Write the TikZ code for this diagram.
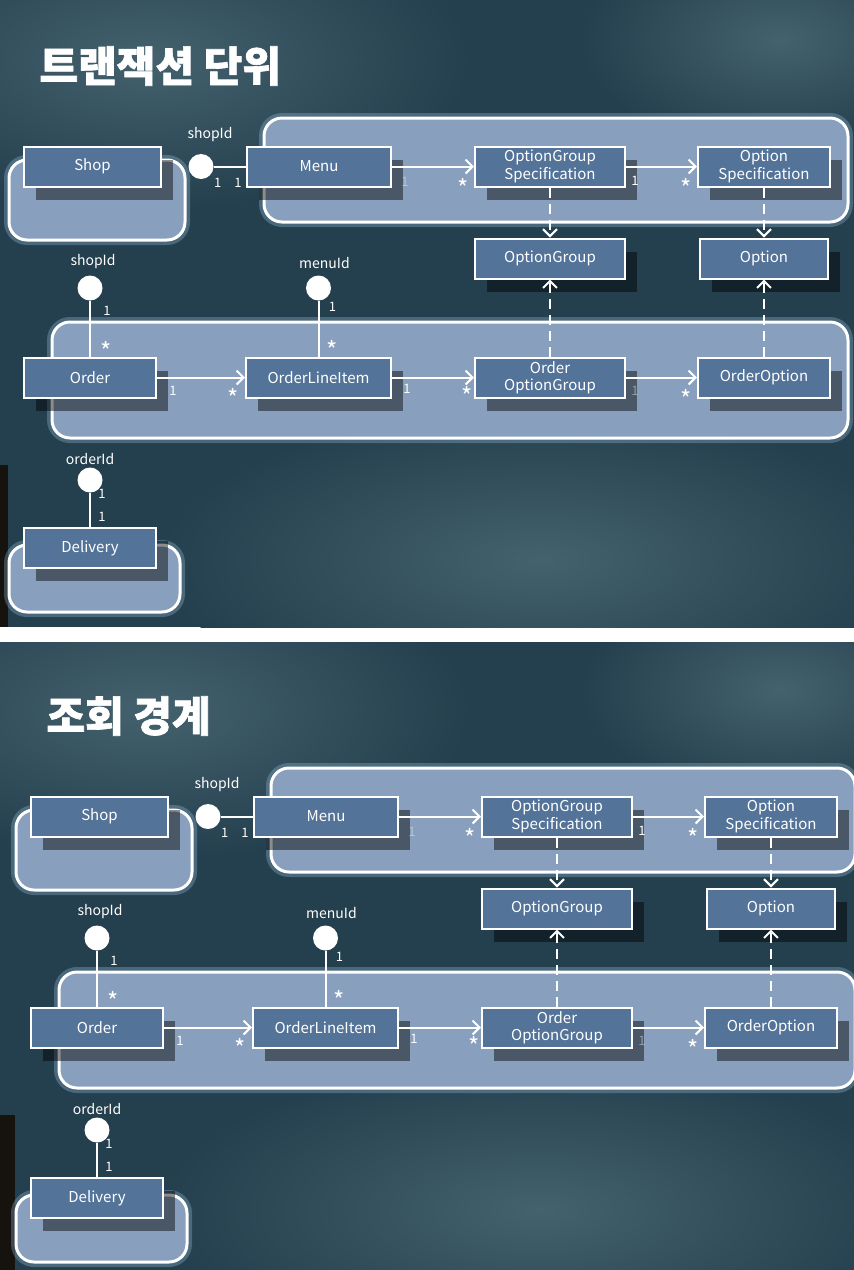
\documentclass[tikz,border=0pt]{standalone}
\usepackage{fontspec}
\setmainfont{Noto Sans CJK KR}
\newfontfamily\headfont{Noto Sans CJK KR}[BoldFeatures={FakeBold=1.5}]
\usetikzlibrary{arrows.meta, positioning, shadows}
\definecolor{board}{RGB}{36,63,77}
\definecolor{boardlight}{RGB}{68,97,110}
\definecolor{edgebar}{RGB}{22,18,14}
\definecolor{classfill}{RGB}{83,115,152}
\definecolor{groupfill}{RGB}{136,160,189}
\definecolor{glow}{RGB}{160,200,230}
\tikzset{
  cls/.style={
    rectangle, draw=white, line width=2pt, fill=classfill,
    minimum height=40pt, inner sep=0pt, align=center,
    text=white, font=\fontsize{15}{17.5}\selectfont,
    drop shadow={shadow xshift=12pt, shadow yshift=-13pt,
                 fill=black, opacity=.45}
  },
  grp/.style={
    draw=white, line width=3pt, fill=groupfill, rounded corners=18pt,
    preaction={draw=glow, line width=10pt, opacity=.3}
  },
  lolli/.style={circle, fill=white, minimum size=25pt, inner sep=0pt},
  tag/.style={text=white, inner sep=0pt, font=\fontsize{14}{16}\selectfont},
  mult/.style={text=white, inner sep=0pt, font=\fontsize{13}{15}\selectfont},
  star/.style={mult, font=\fontsize{24}{24}\selectfont},
  dim/.style={opacity=.4},
  title/.style={text=white, font=\fontsize{42}{46}\selectfont\headfont\bfseries},
  assoc/.style={draw=white, line width=2pt},
  nav/.style={assoc, -{Straight Barb[length=7pt, width=14pt]}},
  dep/.style={nav, dash pattern=on 10pt off 6pt}
}

\begin{document}
\begin{tikzpicture}[x=1pt, y=-1pt]
  \useasboundingbox (0,0) rectangle (854,1270);
  \fill[white] (0,0) rectangle (854,1270);

  \foreach \p/\dx/\dy/\ya/\yb/\ttl in
    {t/0/0/0/627/{트랜잭션 단위}, v/7/650/642/1270/{조회 경계}}{
  \begin{scope}
    \clip (0,\ya) rectangle (854,\yb);
    % chalkboard
    \fill[board] (0,\ya) rectangle (854,\yb);
    \shade[inner color=boardlight, outer color=board]
      (150,\dy+60) ellipse (320pt and 150pt);
    \shade[inner color=boardlight, outer color=board]
      (540,\dy+560) ellipse (380pt and 150pt);
    \shade[inner color=boardlight, outer color=board]
      (780,\dy+40) ellipse (200pt and 110pt);
    \fill[edgebar] (0,\dy+465) rectangle (8+\dx,\yb);

    \begin{scope}[shift={(\dx,\dy)}]
      \node[title, anchor=west] (title-\p) at (36,66) {\ttl};

      % bounded contexts
      \draw[grp] (9,160) rectangle (185,240);
      \draw[grp] (264,118) rectangle (848,222);
      \draw[grp] (52,322) rectangle (848,438);
      \draw[grp] (9,545) rectangle (180,612);

      % classes
      \node[cls, minimum width=137pt] (shop-\p) at (92.5,166.5) {Shop};
      \node[cls, minimum width=144pt] (menu-\p) at (319,166.5) {Menu};
      \node[cls, minimum width=150pt, right=82pt of menu-\p] (ogs-\p) {OptionGroup\\Specification};
      \node[cls, minimum width=132pt, right=71pt of ogs-\p] (os-\p) {Option\\Specification};
      \node[cls, minimum width=150pt, below=50pt of ogs-\p] (og-\p) {OptionGroup};
      \node[cls, minimum width=128pt, below=50pt of os-\p] (opt-\p) {Option};
      \node[cls, minimum width=132pt] (order-\p) at (90,377.5) {Order};
      \node[cls, minimum width=145pt, right=88pt of order-\p] (oli-\p) {OrderLineItem};
      \node[cls, minimum width=150pt, right=82pt of oli-\p] (oog-\p) {Order\\OptionGroup};
      \node[cls, minimum width=132pt, right=71pt of oog-\p] (oo-\p) {OrderOption};
      \node[cls, minimum width=132pt] (dlv-\p) at (90,548) {Delivery};

      % id references
      \node[lolli] (sid-\p) at (201,166.5) {};
      \node[lolli] (sho-\p) at (90,288) {};
      \node[lolli] (mid-\p) at (oli-\p |- sho-\p) {};
      \node[lolli] (oid-\p) at (90,480) {};
      \node[tag, above=12pt of sid-\p, xshift=9pt] (sidtag-\p) {shopId};
      \node[tag, above=6pt of sho-\p, xshift=3pt] (shotag-\p) {shopId};
      \node[tag, above=6pt of mid-\p, xshift=6pt] (midtag-\p) {menuId};
      \node[tag, above=2pt of oid-\p] (oidtag-\p) {orderId};

      \draw[assoc] (sid-\p) --
        node[mult, pos=0, xshift=4pt, yshift=-16pt] (sm1-\p) {1}
        node[mult, pos=1, xshift=-8pt, yshift=-16pt] (sm2-\p) {1} (menu-\p);
      \draw[assoc] (sho-\p) --
        node[mult, pos=0, xshift=17pt, yshift=-10pt] (so1-\p) {1}
        node[star, pos=1, xshift=16pt, yshift=6pt] (so2-\p) {*} (order-\p);
      \draw[assoc] (mid-\p) --
        node[mult, pos=0, xshift=14pt, yshift=-6pt] (mo1-\p) {1}
        node[star, pos=1, xshift=14pt, yshift=7pt] (mo2-\p) {*} (oli-\p);
      \draw[assoc] (oid-\p) --
        node[mult, pos=0, xshift=12pt, yshift=-1pt] (od1-\p) {1}
        node[mult, pos=1, xshift=12pt, yshift=10pt] (od2-\p) {1} (dlv-\p);

      % navigation
      \draw[nav] (menu-\p) --
        node[mult, dim, pos=0, xshift=13pt, yshift=-15pt] (mg1-\p) {1}
        node[star, pos=1, xshift=-11pt, yshift=-21pt] (mg2-\p) {*} (ogs-\p);
      \draw[nav] (ogs-\p) --
        node[mult, pos=0, xshift=9pt, yshift=-14pt] (go1-\p) {1}
        node[star, pos=1, xshift=-11pt, yshift=-21pt] (go2-\p) {*} (os-\p);
      \draw[nav] (order-\p) --
        node[mult, pos=0, xshift=16pt, yshift=-13pt] (ol1-\p) {1}
        node[star, pos=1, xshift=-12pt, yshift=-20pt] (ol2-\p) {*} (oli-\p);
      \draw[nav] (oli-\p) --
        node[mult, pos=0, xshift=15pt, yshift=-11pt] (lg1-\p) {1}
        node[star, pos=1, xshift=-7pt, yshift=-18pt] (lg2-\p) {*} (oog-\p);
      \draw[nav] (oog-\p) --
        node[mult, dim, pos=0, xshift=9pt, yshift=-13pt] (gp1-\p) {1}
        node[star, pos=1, xshift=-11pt, yshift=-21pt] (gp2-\p) {*} (oo-\p);

      % spec links
      \draw[dep] (ogs-\p) -- (og-\p);
      \draw[dep] (oog-\p) -- (og-\p);
      \draw[dep] (os-\p) -- (opt-\p);
      \draw[dep] (oo-\p) -- (opt-\p);
    \end{scope}
  \end{scope}
  }
\end{tikzpicture}
\end{document}
